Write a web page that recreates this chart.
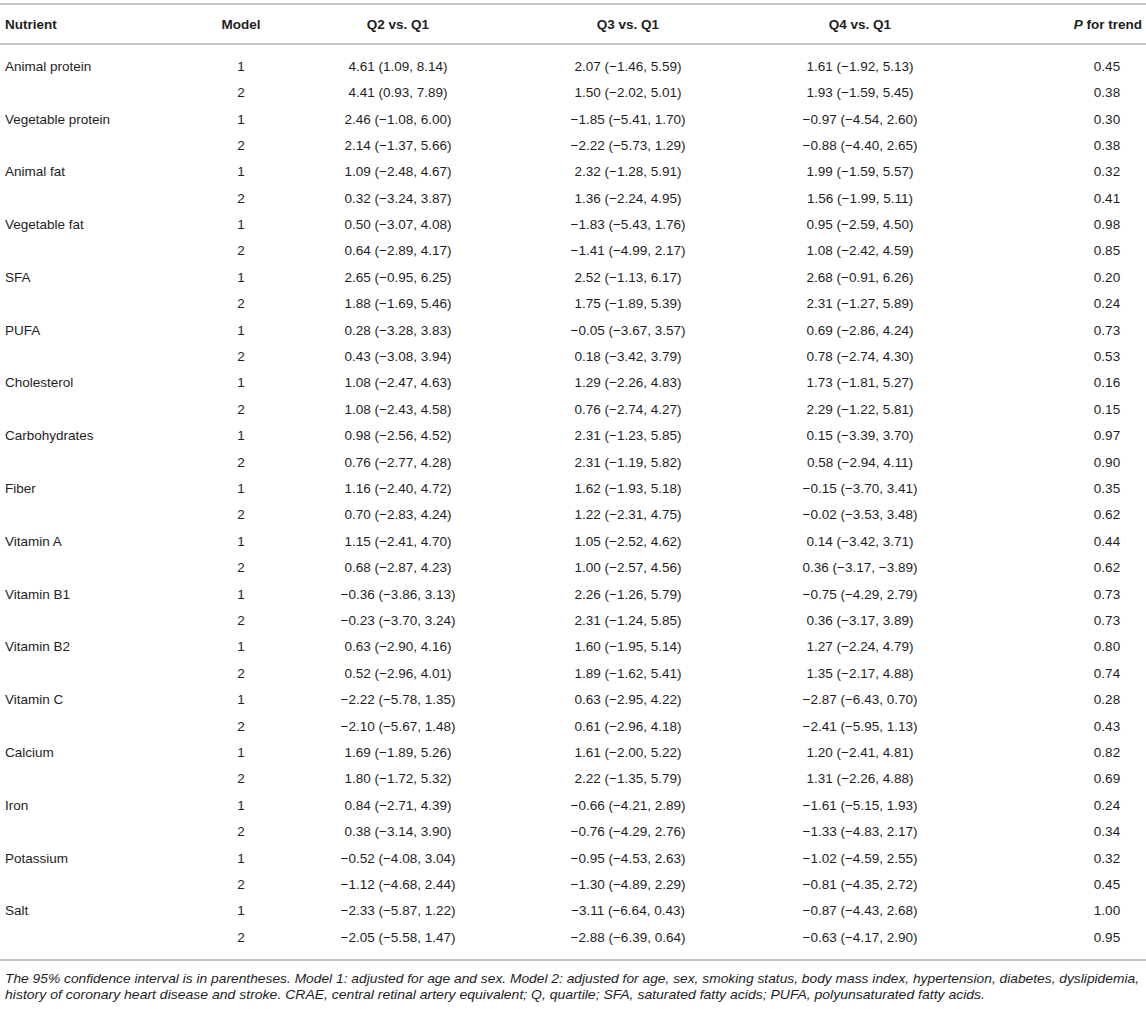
<!DOCTYPE html>
<html>
<head>
<meta charset="utf-8">
<script src="https://cdn.jsdelivr.net/npm/d3@7"></script>
<style>
	body {
		margin: 0;
		background: #ffffff;
	}

	text {
		font-family: "Liberation Sans", Arial, Helvetica, sans-serif;
		fill: #1e1e1e;
	}

	.head {
		font-size: 13.5px;
		font-weight: bold;
	}

	.cell {
		font-size: 13.5px;
	}

	.note {
		font-size: 13.6px;
		font-style: italic;
	}
</style>
</head>
<body>
<div id="container"></div>
<script>
const headers = ["Nutrient", "Model", "Q2 vs. Q1", "Q3 vs. Q1", "Q4 vs. Q1", "P for trend"];

const nutrients = [
	"Animal protein", "Vegetable protein", "Animal fat", "Vegetable fat", "SFA", "PUFA",
	"Cholesterol", "Carbohydrates", "Fiber", "Vitamin A", "Vitamin B1", "Vitamin B2",
	"Vitamin C", "Calcium", "Iron", "Potassium", "Salt",
];

const models = [1, 2];

// [estimate, lower, upper], two rows (model 1, model 2) per nutrient
const q2 = [
	[4.61, 1.09, 8.14], [4.41, 0.93, 7.89],
	[2.46, -1.08, 6.0], [2.14, -1.37, 5.66],
	[1.09, -2.48, 4.67], [0.32, -3.24, 3.87],
	[0.5, -3.07, 4.08], [0.64, -2.89, 4.17],
	[2.65, -0.95, 6.25], [1.88, -1.69, 5.46],
	[0.28, -3.28, 3.83], [0.43, -3.08, 3.94],
	[1.08, -2.47, 4.63], [1.08, -2.43, 4.58],
	[0.98, -2.56, 4.52], [0.76, -2.77, 4.28],
	[1.16, -2.4, 4.72], [0.7, -2.83, 4.24],
	[1.15, -2.41, 4.7], [0.68, -2.87, 4.23],
	[-0.36, -3.86, 3.13], [-0.23, -3.7, 3.24],
	[0.63, -2.9, 4.16], [0.52, -2.96, 4.01],
	[-2.22, -5.78, 1.35], [-2.1, -5.67, 1.48],
	[1.69, -1.89, 5.26], [1.8, -1.72, 5.32],
	[0.84, -2.71, 4.39], [0.38, -3.14, 3.9],
	[-0.52, -4.08, 3.04], [-1.12, -4.68, 2.44],
	[-2.33, -5.87, 1.22], [-2.05, -5.58, 1.47],
];

const q3 = [
	[2.07, -1.46, 5.59], [1.5, -2.02, 5.01],
	[-1.85, -5.41, 1.7], [-2.22, -5.73, 1.29],
	[2.32, -1.28, 5.91], [1.36, -2.24, 4.95],
	[-1.83, -5.43, 1.76], [-1.41, -4.99, 2.17],
	[2.52, -1.13, 6.17], [1.75, -1.89, 5.39],
	[-0.05, -3.67, 3.57], [0.18, -3.42, 3.79],
	[1.29, -2.26, 4.83], [0.76, -2.74, 4.27],
	[2.31, -1.23, 5.85], [2.31, -1.19, 5.82],
	[1.62, -1.93, 5.18], [1.22, -2.31, 4.75],
	[1.05, -2.52, 4.62], [1.0, -2.57, 4.56],
	[2.26, -1.26, 5.79], [2.31, -1.24, 5.85],
	[1.6, -1.95, 5.14], [1.89, -1.62, 5.41],
	[0.63, -2.95, 4.22], [0.61, -2.96, 4.18],
	[1.61, -2.0, 5.22], [2.22, -1.35, 5.79],
	[-0.66, -4.21, 2.89], [-0.76, -4.29, 2.76],
	[-0.95, -4.53, 2.63], [-1.3, -4.89, 2.29],
	[-3.11, -6.64, 0.43], [-2.88, -6.39, 0.64],
];

const q4 = [
	[1.61, -1.92, 5.13], [1.93, -1.59, 5.45],
	[-0.97, -4.54, 2.6], [-0.88, -4.4, 2.65],
	[1.99, -1.59, 5.57], [1.56, -1.99, 5.11],
	[0.95, -2.59, 4.5], [1.08, -2.42, 4.59],
	[2.68, -0.91, 6.26], [2.31, -1.27, 5.89],
	[0.69, -2.86, 4.24], [0.78, -2.74, 4.3],
	[1.73, -1.81, 5.27], [2.29, -1.22, 5.81],
	[0.15, -3.39, 3.7], [0.58, -2.94, 4.11],
	[-0.15, -3.7, 3.41], [-0.02, -3.53, 3.48],
	[0.14, -3.42, 3.71], [0.36, -3.17, -3.89],
	[-0.75, -4.29, 2.79], [0.36, -3.17, 3.89],
	[1.27, -2.24, 4.79], [1.35, -2.17, 4.88],
	[-2.87, -6.43, 0.7], [-2.41, -5.95, 1.13],
	[1.2, -2.41, 4.81], [1.31, -2.26, 4.88],
	[-1.61, -5.15, 1.93], [-1.33, -4.83, 2.17],
	[-1.02, -4.59, 2.55], [-0.81, -4.35, 2.72],
	[-0.87, -4.43, 2.68], [-0.63, -4.17, 2.9],
];

const pTrend = [
	0.45, 0.38, 0.3, 0.38, 0.32, 0.41, 0.98, 0.85, 0.2, 0.24, 0.73, 0.53,
	0.16, 0.15, 0.97, 0.9, 0.35, 0.62, 0.44, 0.62, 0.73, 0.73, 0.8, 0.74,
	0.28, 0.43, 0.82, 0.69, 0.24, 0.34, 0.32, 0.45, 1.0, 0.95,
];

const footnote = [
	"The 95% confidence interval is in parentheses. Model 1: adjusted for age and sex. Model 2: adjusted for age, sex, smoking status, body mass index, hypertension, diabetes, dyslipidemia,",
	"history of coronary heart disease and stroke. CRAE, central retinal artery equivalent; Q, quartile; SFA, saturated fatty acids; PUFA, polyunsaturated fatty acids.",
];

const width = 1146;
const height = 1009;
const layout = {
	topRule: 4,
	headerY: 24,
	headerRule: 44,
	firstRow: 66,
	lastRow: 937,
	bottomRule: 960,
	noteY: 978,
	noteGap: 16,
	noteWidths: [1134, 980],
	ruleColor: "#b5b5b5",
	ruleWidth: 1.6,
};

const fmt = d3.format(".2f");
const ci = (d) => `${fmt(d[0])} (${fmt(d[1])}, ${fmt(d[2])})`;

// One record per printed row
const rows = d3.range(nutrients.length * models.length).map((i) => ({
	nutrient: i % 2 === 0 ? nutrients[i / 2] : "",
	model: models[i % 2],
	q2: ci(q2[i]),
	q3: ci(q3[i]),
	q4: ci(q4[i]),
	p: fmt(pTrend[i]),
}));

// Column anchors (x) and alignment
const columns = [
	{key: "nutrient", x: 5, anchor: "start"},
	{key: "model", x: 241, anchor: "middle"},
	{key: "q2", x: 398, anchor: "middle"},
	{key: "q3", x: 628, anchor: "middle"},
	{key: "q4", x: 860, anchor: "middle"},
	{key: "p", x: 1107, anchor: "middle"},
];

const y = d3
	.scaleLinear()
	.domain([0, rows.length - 1])
	.range([layout.firstRow, layout.lastRow]);

const svg = d3
	.select("#container")
	.append("svg")
	.attr("width", width)
	.attr("height", height)
	.attr("viewBox", `0 0 ${width} ${height}`);

// Horizontal rules
svg
	.append("g")
	.attr("stroke", layout.ruleColor)
	.attr("stroke-width", layout.ruleWidth)
	.selectAll("line")
	.data([layout.topRule, layout.headerRule, layout.bottomRule])
	.join("line")
	.attr("x1", 0)
	.attr("x2", width)
	.attr("y1", (d) => d)
	.attr("y2", (d) => d);

// Header row
const head = svg
	.append("g")
	.selectAll("text")
	.data(columns)
	.join("text")
	.attr("class", "head")
	.attr("x", (d, i) => (i === columns.length - 1 ? width - 4 : d.x))
	.attr("y", layout.headerY)
	.attr("dy", "0.35em")
	.attr("text-anchor", (d, i) => (i === columns.length - 1 ? "end" : d.anchor))
	.text((d, i) => (i === columns.length - 1 ? null : headers[i]));

// "P" is italic in the last header
head
	.filter((d, i) => i === columns.length - 1)
	.call((t) => {
		t.append("tspan").attr("font-style", "italic").text("P");
		t.append("tspan").text(" for trend");
	});

// Body cells
const rowGroups = svg
	.append("g")
	.selectAll("g")
	.data(rows)
	.join("g")
	.attr("transform", (d, i) => `translate(0, ${y(i)})`);

rowGroups
	.selectAll("text")
	.data((row) => columns.map((c) => ({...c, value: row[c.key]})))
	.join("text")
	.attr("class", "cell")
	.attr("x", (d) => d.x)
	.attr("dy", "0.35em")
	.attr("text-anchor", (d) => d.anchor)
	.text((d) => d.value);

// Footnote
svg
	.append("g")
	.selectAll("text")
	.data(footnote)
	.join("text")
	.attr("class", "note")
	.attr("x", 5)
	.attr("y", (d, i) => layout.noteY + i * layout.noteGap)
	.attr("dy", "0.35em")
	.attr("textLength", (d, i) => layout.noteWidths[i])
	.attr("lengthAdjust", "spacingAndGlyphs")
	.text((d) => d);
</script>
</body>
</html>
